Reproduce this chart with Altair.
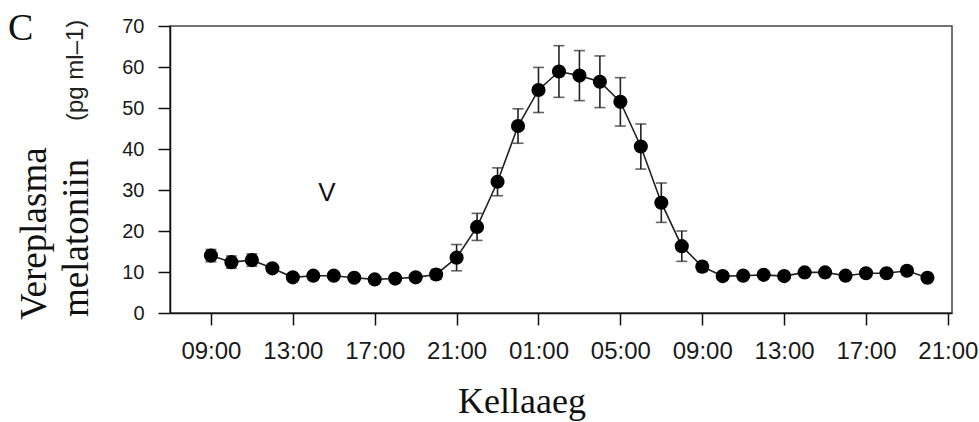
import altair as alt
import pandas as pd

# Hours after 09:00 on day 1
hours = list(range(36))
melatonin = [14.0, 12.4, 12.9, 10.9, 8.7, 9.1, 9.1, 8.6, 8.2, 8.4, 8.7, 9.4,
             13.5, 21.0, 32.0, 45.6, 54.4, 58.9, 57.9, 56.4, 51.5, 40.6, 26.9, 16.3,
             11.3, 9.0, 9.1, 9.3, 9.0, 9.9, 9.9, 9.1, 9.7, 9.7, 10.3, 8.6]
sem = [1.5, 1.5, 1.5, 0.8, 0.5, 0.5, 0.5, 0.5, 0.5, 0.5, 0.5, 1.2,
       3.2, 3.3, 3.4, 4.2, 5.5, 6.3, 6.1, 6.3, 5.9, 5.5, 4.8, 3.7,
       1.2, 0.5, 0.5, 0.5, 0.5, 0.5, 0.5, 0.5, 0.5, 0.5, 1.0, 0.5]

tick_values = [0, 4, 8, 12, 16, 20, 24, 28, 32, 36]
tick_labels = ["09:00", "13:00", "17:00", "21:00", "01:00", "05:00",
               "09:00", "13:00", "17:00", "21:00"]
y_ticks = [0, 10, 20, 30, 40, 50, 60, 70]

df = pd.DataFrame({"h": hours, "v": melatonin, "e": sem})
df["lo"] = df["v"] - df["e"]
df["hi"] = df["v"] + df["e"]

W, H = 782, 287

label_expr = "[" + ",".join("'" + t + "'" for t in tick_labels) + "][round(datum.value/4)]"

x_enc = alt.X("h:Q",
              scale=alt.Scale(domain=[-2, 36.2], nice=False, zero=False),
              axis=alt.Axis(values=tick_values, labelExpr=label_expr, title=None,
                            grid=False, tickSize=12, tickWidth=1.5, domainWidth=1.5,
                            labelFontSize=24, labelFont="Liberation Sans",
                            labelPadding=14, labelColor="#1a1a1a",
                            domainColor="#111", tickColor="#111"))
y_enc = alt.Y("v:Q",
              scale=alt.Scale(domain=[0, 70], nice=False),
              axis=alt.Axis(values=y_ticks, title=None, grid=False, tickSize=12,
                            tickWidth=1.5, domainWidth=1.5,
                            labelFontSize=20, labelFont="Liberation Sans",
                            labelPadding=14, labelColor="#1a1a1a",
                            domainColor="#111", tickColor="#111"))

base = alt.Chart(df)

err = base.mark_rule(color="#222", strokeWidth=1.6).encode(
    x=x_enc, y=alt.Y("lo:Q"), y2="hi:Q")
cap_lo = base.mark_tick(color="#222", orient="horizontal", size=11, thickness=1.6).encode(
    x=x_enc, y=alt.Y("lo:Q"))
cap_hi = base.mark_tick(color="#222", orient="horizontal", size=11, thickness=1.6).encode(
    x=x_enc, y=alt.Y("hi:Q"))
line = base.mark_line(color="#222", strokeWidth=1.6).encode(x=x_enc, y=y_enc)
pts = base.mark_point(filled=True, color="#000", opacity=1, size=200).encode(x=x_enc, y=y_enc)

def txt(s, x, y, font, size, angle=0, align="left", baseline="alphabetic", color="#111"):
    d = pd.DataFrame({"t": [s]})
    kw = dict(font=font, fontSize=size, align=align, baseline=baseline, color=color)
    if angle:
        kw["angle"] = angle
    return alt.Chart(d).mark_text(**kw).encode(
        x=alt.value(x), y=alt.value(y), text="t:N")

panel = txt("C", 8 - 170, 40 - 26, "Liberation Serif", 38)
v_lab = txt("V", 327 - 170, 201 - 26, "Liberation Sans", 26, align="center")
xt = txt("Kellaaeg", 522 - 170, 413 - 26, "Liberation Serif", 36, align="center")
yt1 = txt("Vereplasma", 46 - 170, 320 - 26, "Liberation Serif", 37, angle=270)
yt2 = txt("melatoniin", 88 - 170, 317 - 26, "Liberation Serif", 37, angle=270)
yt3 = txt("(pg ml\u20131)", 83 - 170, 121 - 26, "Liberation Sans", 24, angle=270, color="#222")

chart = alt.layer(err, cap_lo, cap_hi, line, pts, panel, v_lab, xt, yt1, yt2, yt3).properties(
    width=W, height=H,
    padding={"left": 170, "top": 26, "right": 27, "bottom": 109},
    autosize=alt.AutoSizeParams(type="none"),
    background="white",
).configure_view(stroke="#444", strokeWidth=1.5)

chart.save("out.html", embed_options={"renderer": "svg", "actions": False})
